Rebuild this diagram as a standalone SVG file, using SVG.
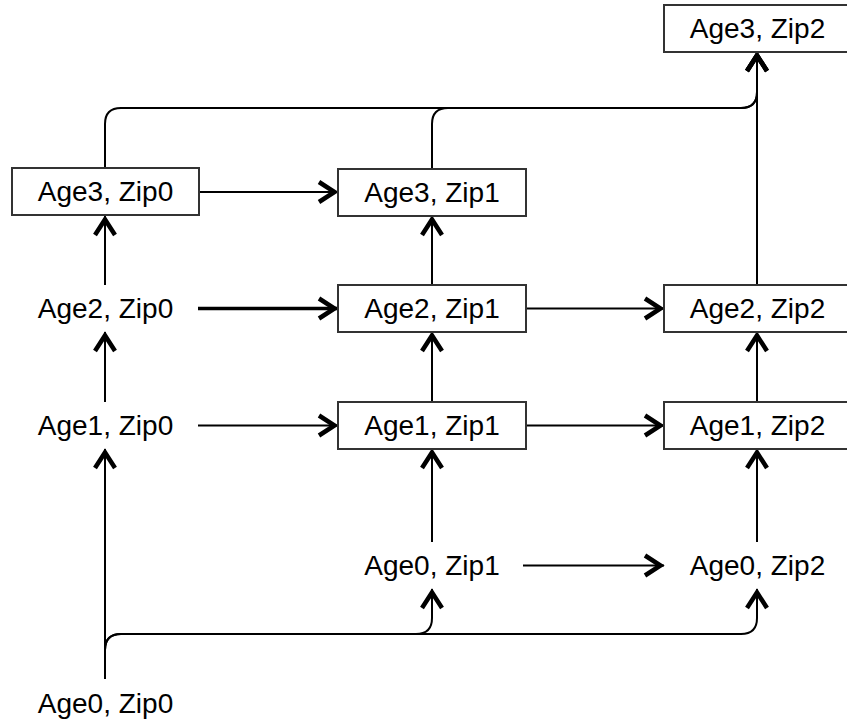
<svg xmlns="http://www.w3.org/2000/svg" width="847" height="721" viewBox="0 0 847 721">
<defs>
<style>
.box{fill:#fff;stroke:#333;stroke-width:2}
.lbl{font-family:"Liberation Sans",Arial,sans-serif;font-size:28px;fill:#000;text-anchor:middle;dominant-baseline:central}
.edge{fill:none;stroke:#000;stroke-width:2;marker-end:url(#open)}
.thick{stroke-width:3.5}
</style>
<marker id="open" markerUnits="userSpaceOnUse" markerWidth="40" markerHeight="40" viewBox="-30 -20 40 40" refX="0" refY="0" orient="auto" overflow="visible">
<path d="M-19,-10 L-3.5,0 L-19,10" fill="none" stroke="#000" stroke-width="4.5" stroke-linecap="butt" stroke-linejoin="miter"/>
</marker>
</defs>
<rect width="847" height="721" fill="#fff"/>
<g id="connectors">
<path class="edge" d="M105,168 L105,124 Q105,108 121,108 L741,108 Q757,108 757,92 L757,52"/>
<path class="edge" d="M432,169 L432,124 Q432,108 448,108 L741,108 Q757,108 757,92 L757,52"/>
<path class="edge" d="M757,285 L757,52"/>
<path class="edge" d="M199,192 L338,192"/>
<path class="edge" d="M105,285 L105,216"/>
<path class="edge" d="M432,285 L432,216"/>
<path class="edge thick" d="M198,308.5 L338,308.5"/>
<path class="edge" d="M526,308.5 L664,308.5"/>
<path class="edge" d="M105,402 L105,332"/>
<path class="edge" d="M432,402 L432,332"/>
<path class="edge" d="M757,402 L757,332"/>
<path class="edge" d="M198,425.5 L338,425.5"/>
<path class="edge" d="M526,425.5 L664,425.5"/>
<path class="edge" d="M105,679 L105,449"/>
<path class="edge" d="M432,542 L432,449"/>
<path class="edge" d="M757,542 L757,449"/>
<path class="edge" d="M523,565.5 L664,565.5"/>
<path class="edge" d="M105,679 L105,650 Q105,634 121,634 L416,634 Q432,634 432,618 L432,589"/>
<path class="edge" d="M105,679 L105,650 Q105,634 121,634 L741,634 Q757,634 757,618 L757,589"/>
</g>
<g id="age3zip2"><rect class="box" x="664" y="5" width="187" height="47"/><text class="lbl" x="757.5" y="28.5">Age3, Zip2</text></g>
<g id="age3zip0"><rect class="box" x="12" y="168" width="187" height="47"/><text class="lbl" x="105.5" y="191.5">Age3, Zip0</text></g>
<g id="age3zip1"><rect class="box" x="338" y="169" width="188" height="47"/><text class="lbl" x="432" y="192.5">Age3, Zip1</text></g>
<g id="age2zip0"><text class="lbl" x="105.5" y="308.5">Age2, Zip0</text></g>
<g id="age2zip1"><rect class="box" x="338" y="285" width="188" height="47"/><text class="lbl" x="432" y="308.5">Age2, Zip1</text></g>
<g id="age2zip2"><rect class="box" x="664" y="285" width="187" height="47"/><text class="lbl" x="757.5" y="308.5">Age2, Zip2</text></g>
<g id="age1zip0"><text class="lbl" x="105.5" y="425.5">Age1, Zip0</text></g>
<g id="age1zip1"><rect class="box" x="338" y="402" width="188" height="47"/><text class="lbl" x="432" y="425.5">Age1, Zip1</text></g>
<g id="age1zip2"><rect class="box" x="664" y="402" width="187" height="47"/><text class="lbl" x="757.5" y="425.5">Age1, Zip2</text></g>
<g id="age0zip1"><text class="lbl" x="432" y="565.5">Age0, Zip1</text></g>
<g id="age0zip2"><text class="lbl" x="757.5" y="565.5">Age0, Zip2</text></g>
<g id="age0zip0"><text class="lbl" x="105.5" y="703">Age0, Zip0</text></g>
</svg>
